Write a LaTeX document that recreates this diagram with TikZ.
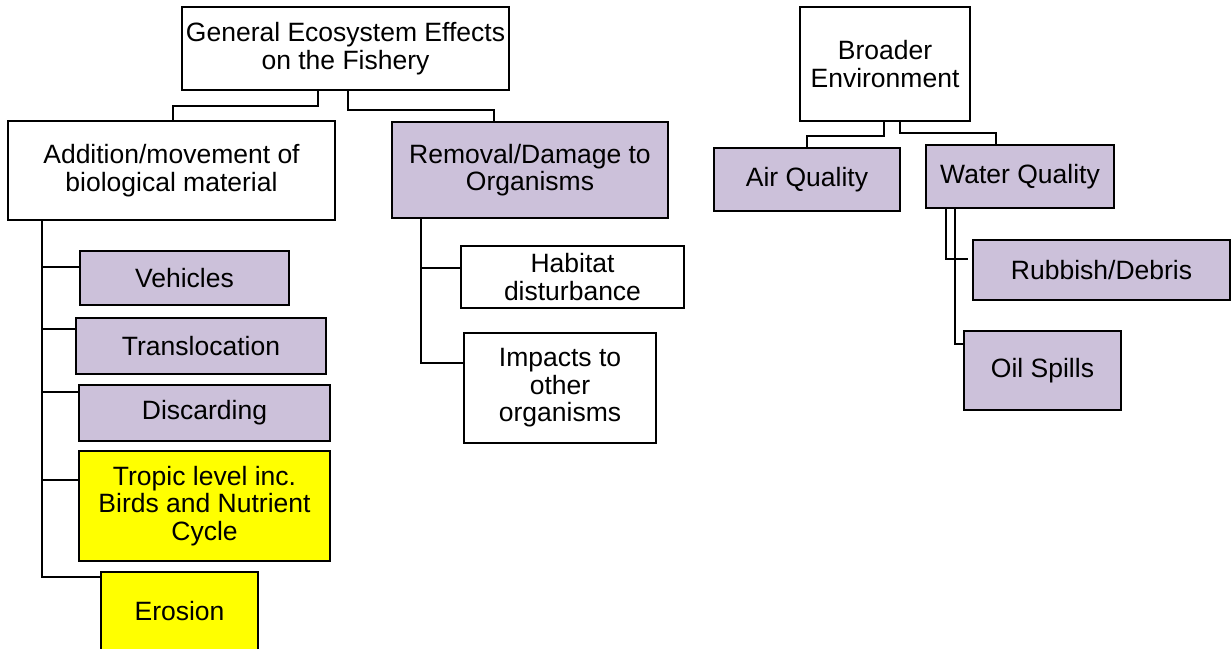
\documentclass[tikz,border=0pt]{standalone}
\usepackage{fontspec}
\setmainfont{Liberation Sans}
\usetikzlibrary{calc}
\definecolor{lav}{HTML}{CCC1DA}
\definecolor{yel}{HTML}{FFFF00}
\tikzset{
  box/.style={draw=black, line width=2.9pt, rectangle, align=center,
    inner sep=0pt, outer sep=0pt, anchor=north west,
    font=\fontsize{26.5}{27.5}\selectfont},
  plainbox/.style={box, fill=white},
  lavbox/.style={box, fill=lav},
  yelbox/.style={box, fill=yel},
  link/.style={draw=black, line width=2.9pt}
}
\begin{document}
\begin{tikzpicture}[x=1pt, y=-1pt]
\useasboundingbox (0,0) rectangle (1231,648);

% top of the left tree
\node[plainbox, minimum width=327, minimum height=83] (gen) at (182,7)
  {General Ecosystem Effects\\on the Fishery};
\node[plainbox, minimum width=327, minimum height=99] (add) at (8,121)
  {Addition/movement of\\biological material};
\node[lavbox, minimum width=276, minimum height=96] (rem) at (392,122)
  {Removal/Damage to\\Organisms};

% children of the addition branch
\node[lavbox, minimum width=209, minimum height=54] (veh) at (80,251) {Vehicles};
\node[lavbox, minimum width=250, minimum height=56] (tra) at (76,318) {Translocation};
\node[lavbox, minimum width=251, minimum height=56] (dis) at (79,385) {Discarding};
\node[yelbox, minimum width=251, minimum height=110] (tro) at (79,451)
  {Tropic level inc.\\Birds and Nutrient\\Cycle};
\node[yelbox, minimum width=157, minimum height=78] (ero) at (101,572) {Erosion};

% children of the removal branch
\node[plainbox, minimum width=223, minimum height=62] (hab) at (461,246)
  {Habitat\\disturbance};
\node[plainbox, minimum width=192, minimum height=110] (imp) at (464,333)
  {Impacts to\\other\\organisms};

% right tree
\node[plainbox, minimum width=170, minimum height=114] (bro) at (800,7)
  {Broader\\Environment};
\node[lavbox, minimum width=186, minimum height=63] (air) at (714,148) {Air Quality};
\node[lavbox, minimum width=188, minimum height=63] (wat) at (926,145) {Water Quality};
\node[lavbox, minimum width=257, minimum height=60] (rub) at (973,240) {Rubbish/Debris};
\node[lavbox, minimum width=157, minimum height=79] (oil) at (964,331) {Oil Spills};

% connectors of the left tree
\draw[link] (gen.south -| 318,0) |- (173,106) -- (add.north -| 173,0);
\draw[link] (gen.south -| 348,0) |- (494,110) -- (rem.north -| 494,0);

\coordinate (sa) at (add.south -| 42,0);
\draw[link] (sa) |- (ero.west |- 0,577);
\draw[link] (sa |- 0,267) -- (veh.west |- 0,267);
\draw[link] (sa |- 0,329) -- (tra.west |- 0,329);
\draw[link] (sa |- 0,392) -- (dis.west |- 0,392);
\draw[link] (sa |- 0,480) -- (tro.west |- 0,480);

\coordinate (sr) at (rem.south -| 421,0);
\draw[link] (sr) |- (imp.west |- 0,363);
\draw[link] (sr |- 0,268) -- (hab.west |- 0,268);

% connectors of the right tree
\draw[link] (bro.south -| 884,0) |- (807,136) -- (air.north -| 807,0);
\draw[link] (bro.south -| 900,0) |- (996,133) -- (wat.north -| 996,0);

\coordinate (rubend) at (968,259);
\draw[link] (wat.south -| 946,0) |- (rubend);
\draw[link] (wat.south -| 955,0) |- (oil.west |- 0,344);
\end{tikzpicture}
\end{document}
